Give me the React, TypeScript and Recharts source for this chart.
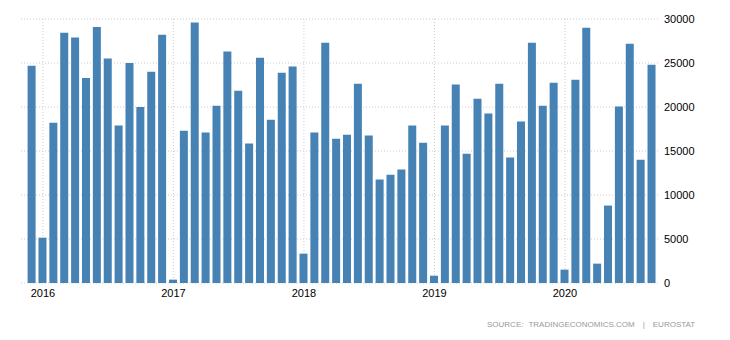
import { Bar, BarChart, CartesianGrid, XAxis, YAxis } from "recharts";

// monthly values, Dec 2015 .. Sep 2020
const months = [
  "2015-12",
  "2016-01", "2016-02", "2016-03", "2016-04", "2016-05", "2016-06",
  "2016-07", "2016-08", "2016-09", "2016-10", "2016-11", "2016-12",
  "2017-01", "2017-02", "2017-03", "2017-04", "2017-05", "2017-06",
  "2017-07", "2017-08", "2017-09", "2017-10", "2017-11", "2017-12",
  "2018-01", "2018-02", "2018-03", "2018-04", "2018-05", "2018-06",
  "2018-07", "2018-08", "2018-09", "2018-10", "2018-11", "2018-12",
  "2019-01", "2019-02", "2019-03", "2019-04", "2019-05", "2019-06",
  "2019-07", "2019-08", "2019-09", "2019-10", "2019-11", "2019-12",
  "2020-01", "2020-02", "2020-03", "2020-04", "2020-05", "2020-06",
  "2020-07", "2020-08", "2020-09",
];

const values = [
  24700,
  5150, 18200, 28450, 27900, 23300, 29100,
  25500, 17900, 25000, 20000, 24000, 28200,
  380, 17300, 29600, 17100, 20150, 26300,
  21850, 15850, 25600, 18550, 23900, 24600,
  3330, 17100, 27300, 16400, 16850, 22650,
  16750, 11750, 12300, 12900, 17900, 15950,
  830, 17900, 22550, 14700, 20950, 19250,
  22650, 14250, 18350, 27300, 20150, 22750,
  1520, 23100, 29000, 2200, 8800, 20050,
  27200, 14000, 24800,
];

const yearTicks = ["2016-01", "2017-01", "2018-01", "2019-01", "2020-01"];
const valueTicks = [0, 5000, 10000, 15000, 20000, 25000, 30000];

const data = months.map((month, i) => ({ month, value: values[i] }));

const font = "'Liberation Sans', Arial, sans-serif";

export default function App() {
  return (
    <div style={{ position: "absolute", left: 0, top: 0, width: 730, height: 340, background: "#fff" }}>
      <BarChart
        width={730}
        height={340}
        data={data}
        margin={{ top: 19, right: 0, left: 21, bottom: 37 }}
      >
        <CartesianGrid stroke="#cccccc" strokeDasharray="1 2" syncWithTicks />
        <XAxis
          dataKey="month"
          ticks={yearTicks}
          interval={0}
          tickFormatter={(m: string) => m.slice(0, 4)}
          axisLine={false}
          tickLine={false}
          tickSize={4}
          tickMargin={2}
          height={20}
          padding={{ left: 5.6, right: 2.6 }}
          tick={{ fontSize: 11, fill: "#000", fontFamily: font }}
        />
        <YAxis
          orientation="right"
          domain={[0, 30000]}
          ticks={valueTicks}
          axisLine={false}
          tickLine={false}
          tickSize={2}
          tickMargin={2}
          width={70}
          tick={{ fontSize: 11, fill: "#000", fontFamily: font }}
        />
        <Bar dataKey="value" fill="#4682b4" barSize={8} isAnimationActive={false} />
      </BarChart>
      <div
        style={{
          position: "absolute",
          left: 487,
          top: 320,
          fontFamily: font,
          fontSize: 8,
          color: "#999",
          whiteSpace: "pre",
          lineHeight: "10px",
        }}
      >
        <span>SOURCE:</span>
        <span style={{ marginLeft: 5 }}>TRADINGECONOMICS.COM</span>
        <span style={{ marginLeft: 8 }}>|</span>
        <span style={{ marginLeft: 8 }}>EUROSTAT</span>
      </div>
    </div>
  );
}
